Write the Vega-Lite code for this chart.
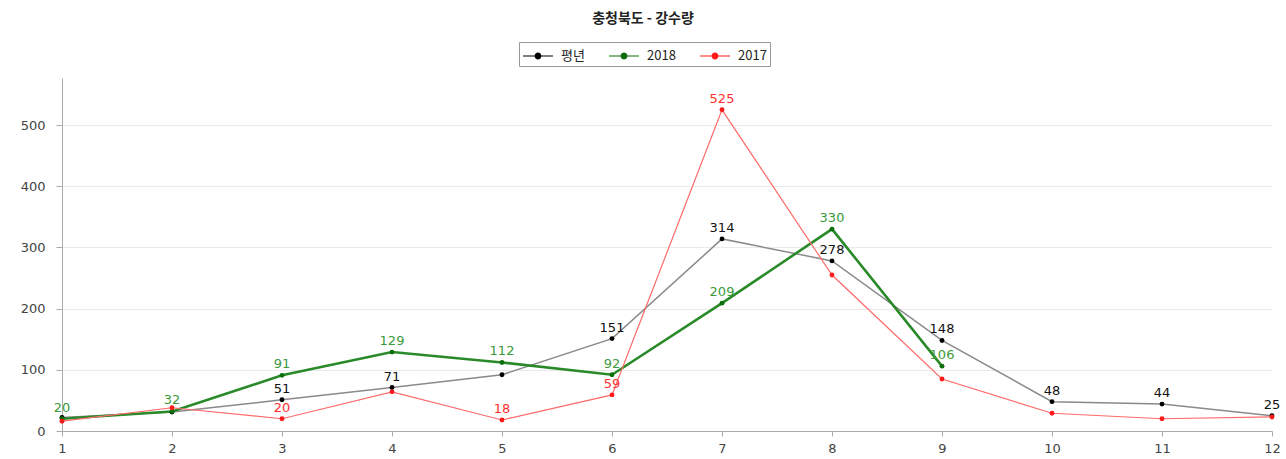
{
  "$schema": "https://vega.github.io/schema/vega-lite/v6.json",
  "autosize": "none",
  "width": 1210,
  "height": 353,
  "padding": {"left": 62, "top": 78, "right": 14, "bottom": 28},
  "background": "#ffffff",
  "title": {
    "text": "충청북도 - 강수량",
    "font": "Noto Sans CJK KR",
    "fontSize": 14,
    "fontWeight": "bold",
    "color": "#222222",
    "anchor": "middle",
    "dx": -24,
    "offset": 16
  },
  "config": {
    "font": "DejaVu Sans",
    "view": {"stroke": null}
  },
  "data": {
    "values": [
      {"month": 1, "series": "평년", "value": 22, "label": null},
      {"month": 2, "series": "평년", "value": 31, "label": null},
      {"month": 3, "series": "평년", "value": 51, "label": "51"},
      {"month": 4, "series": "평년", "value": 71, "label": "71"},
      {"month": 5, "series": "평년", "value": 92, "label": null},
      {"month": 6, "series": "평년", "value": 151, "label": "151"},
      {"month": 7, "series": "평년", "value": 314, "label": "314"},
      {"month": 8, "series": "평년", "value": 278, "label": "278"},
      {"month": 9, "series": "평년", "value": 148, "label": "148"},
      {"month": 10, "series": "평년", "value": 48, "label": "48"},
      {"month": 11, "series": "평년", "value": 44, "label": "44"},
      {"month": 12, "series": "평년", "value": 25, "label": "25"},
      {"month": 1, "series": "2018", "value": 20, "label": "20"},
      {"month": 2, "series": "2018", "value": 32, "label": "32"},
      {"month": 3, "series": "2018", "value": 91, "label": "91"},
      {"month": 4, "series": "2018", "value": 129, "label": "129"},
      {"month": 5, "series": "2018", "value": 112, "label": "112"},
      {"month": 6, "series": "2018", "value": 92, "label": "92"},
      {"month": 7, "series": "2018", "value": 209, "label": "209"},
      {"month": 8, "series": "2018", "value": 330, "label": "330"},
      {"month": 9, "series": "2018", "value": 106, "label": "106"},
      {"month": 1, "series": "2017", "value": 16, "label": null},
      {"month": 2, "series": "2017", "value": 38, "label": null},
      {"month": 3, "series": "2017", "value": 20, "label": "20"},
      {"month": 4, "series": "2017", "value": 64, "label": null},
      {"month": 5, "series": "2017", "value": 18, "label": "18"},
      {"month": 6, "series": "2017", "value": 59, "label": "59"},
      {"month": 7, "series": "2017", "value": 525, "label": "525"},
      {"month": 8, "series": "2017", "value": 255, "label": null},
      {"month": 9, "series": "2017", "value": 85, "label": null},
      {"month": 10, "series": "2017", "value": 29, "label": null},
      {"month": 11, "series": "2017", "value": 20, "label": null},
      {"month": 12, "series": "2017", "value": 23, "label": null}
    ]
  },
  "encoding": {
    "x": {
      "field": "month",
      "type": "quantitative",
      "scale": {"domain": [1, 12], "nice": false, "zero": false},
      "axis": {
        "title": null,
        "values": [1, 2, 3, 4, 5, 6, 7, 8, 9, 10, 11, 12],
        "grid": false,
        "domainColor": "#aaaaaa",
        "tickColor": "#aaaaaa",
        "tickSize": 5,
        "labelPadding": 6,
        "labelFontSize": 13,
        "labelColor": "#444444",
        "labelFlush": false
      }
    },
    "y": {
      "field": "value",
      "type": "quantitative",
      "scale": {"domain": [0, 577], "nice": false},
      "axis": {
        "title": null,
        "values": [0, 100, 200, 300, 400, 500],
        "grid": true,
        "gridColor": "#eaeaea",
        "domainColor": "#aaaaaa",
        "tickColor": "#aaaaaa",
        "tickSize": 6,
        "labelPadding": 11,
        "labelFontSize": 13,
        "labelColor": "#444444"
      }
    }
  },
  "layer": [
    {
      "mark": {"type": "line", "interpolate": "linear"},
      "encoding": {
        "stroke": {
          "field": "series",
          "type": "nominal",
          "scale": {"domain": ["2017", "2018", "평년"], "range": ["#ff6a6a", "#2a8a2a", "#8a8a8a"]},
          "legend": null
        },
        "strokeWidth": {
          "field": "series",
          "type": "nominal",
          "scale": {"type": "ordinal", "domain": ["2018", "2017", "평년"], "range": [2.6, 1.2, 1.5]},
          "legend": null
        }
      }
    },
    {
      "mark": {"type": "point", "filled": true, "size": 24, "opacity": 1},
      "encoding": {
        "fill": {
          "field": "series",
          "type": "nominal",
          "scale": {"domain": ["평년", "2018", "2017"], "range": ["#000000", "#0a6e0a", "#ff1a1a"]},
          "legend": {
            "title": null,
            "orient": "none",
            "legendX": 457,
            "legendY": -36,
            "direction": "horizontal",
            "symbolType": "M-1.5,0L1.5,0M-0.28,0A0.28,0.28 0 1,1 0.28,0A0.28,0.28 0 1,1 -0.28,0Z",
            "symbolSize": 400,
            "symbolStrokeWidth": 1.2,
            "symbolOpacity": 1,
            "symbolOffset": 5,
            "labelOffset": 12,
            "labelFont": "Noto Sans CJK KR",
            "labelFontSize": 13,
            "labelColor": "#222222",
            "columnPadding": 21,
            "strokeColor": "#999999",
            "padding": 3,
            "encode": {
              "symbols": {
                "update": {
                  "stroke": {"scale": "fill", "field": "value"}
                }
              }
            }
          }
        }
      }
    },
    {
      "transform": [{"filter": "datum.label != null"}],
      "mark": {"type": "text", "dy": -11, "fontSize": 13},
      "encoding": {
        "text": {"field": "label", "type": "nominal"},
        "color": {
          "field": "series",
          "type": "nominal",
          "scale": {"domain": ["2018", "평년", "2017"], "range": ["#3a9a3a", "#111111", "#ff3030"]},
          "legend": null
        }
      }
    }
  ]
}
